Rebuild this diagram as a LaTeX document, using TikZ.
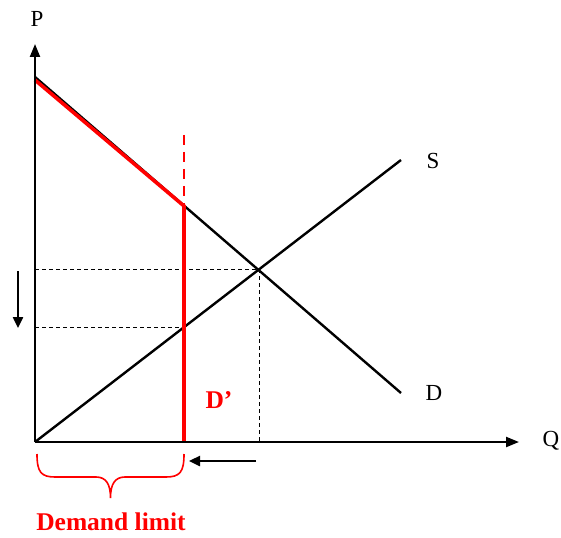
\documentclass[tikz,border=0pt]{standalone}
\usepackage{fontspec}
\setmainfont{Liberation Serif}
\usetikzlibrary{arrows.meta}
\begin{document}
\begin{tikzpicture}[x=1pt,y=-1pt,
  axis/.style={line width=2.2pt,-{Triangle[length=13pt,width=10pt]}},
  curve/.style={line width=2.4pt},
  redline/.style={red,line width=3.6pt},
  reddash/.style={red,line width=2.8pt,dash pattern=on 10pt off 7pt},
  guide/.style={line width=1pt,dash pattern=on 4pt off 3pt},
  lbl/.style={font=\fontsize{23}{26}\selectfont,inner sep=0pt},
  redlbl/.style={red,font=\fontsize{25.5}{28}\selectfont\bfseries,inner sep=0pt},
  shiftarrow/.style={line width=2.4pt,-{Triangle[length=11pt,width=10pt]}},
  bracestyle/.style={red,line width=1.6pt}]
\useasboundingbox (0,0) rectangle (561,537);
\coordinate (O) at (35,442);
\coordinate (Ytop) at (35,44);
\coordinate (Xend) at (519,442);
\coordinate (D0) at (35,77);
\coordinate (D1) at (401,393);
\coordinate (S1) at (401,160);
\coordinate (E) at (259,269);
\coordinate (Ey) at (35,269);
\coordinate (Ex) at (259,442);
\coordinate (R0) at (35,80);
\coordinate (Rk) at (184,206);
\coordinate (Rb) at (184,442);
\coordinate (Rt) at (184,135);
\coordinate (Sk) at (184,327);
\coordinate (Sy) at (35,327);
\coordinate (Pa) at (18,271);
\coordinate (Pb) at (18,328);
\coordinate (Qa) at (256,461);
\coordinate (Qb) at (189,461);
\coordinate (B0) at (37,454);
\coordinate (Bm) at (110.5,498);
\coordinate (B1) at (184,454);
% guides
\draw[guide] (Ey) -- (E);
\draw[guide] (E) -- (Ex);
\draw[guide] (Sy) -- (Sk);
\draw[reddash] (Rt) -- (Rk);
% curves
\draw[curve] (D0) -- (D1);
\draw[curve] (O) -- (S1);
\draw[redline] (R0) -- (Rk) -- (Rb);
% axes
\draw[axis] (O) -- (Ytop);
\draw[axis] (O) -- (Xend);
% shift arrows
\draw[shiftarrow] (Pa) -- (Pb);
\draw[shiftarrow] (Qa) -- (Qb);
% brace
\draw[bracestyle] (B0) .. controls (37,472) and (41,477) .. (55,477) -- (96,477)
  .. controls (106,477) and (110.5,484) .. (Bm)
  .. controls (110.5,484) and (115,477) .. (125,477) -- (166,477)
  .. controls (180,477) and (184,472) .. (B1);
% labels
\node[lbl] (P) at (37,19) {P};
\node[lbl] (Q) at (551,441) {Q};
\node[lbl] (S) at (433,161) {S};
\node[lbl] (D) at (434,393) {D};
\node[redlbl] (Dp) at (219,400) {D’};
\node[redlbl] (DL) at (111,522) {Demand limit};
\end{tikzpicture}
\end{document}
